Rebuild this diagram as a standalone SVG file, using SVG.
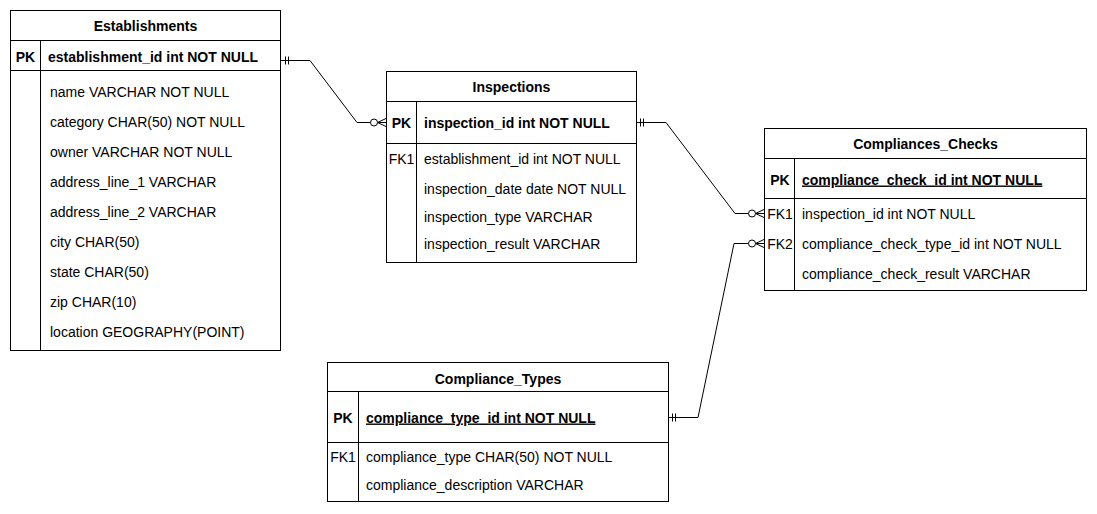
<svg xmlns="http://www.w3.org/2000/svg" width="1097" height="514" viewBox="0 0 1097 514">
<style>
.box{fill:#fff;stroke:#000;stroke-width:1}
.ln{stroke:#000;stroke-width:1;fill:none}
text{font-family:"Liberation Sans",Arial,sans-serif;font-size:14px;fill:#000}
.t{font-weight:bold;text-anchor:middle}
.b{font-weight:bold}
.k{text-anchor:middle}
.kb{text-anchor:middle;font-weight:bold}
.u{text-decoration:underline}
.conn{stroke:#000;stroke-width:1;fill:none}
.circ{fill:#fff;stroke:#000;stroke-width:1}
</style>
<rect width="1097" height="514" fill="#fff"/>
<g id="connectors">
  <g id="c1">
    <path class="conn" d="M281,60.5 H310 L357,122.5 H386"/>
    <path class="conn" d="M285.5,56.5 V64.5 M288.5,56.5 V64.5"/>
    <path class="conn" d="M377.5,122.5 L386,118.5 M377.5,122.5 L386,122.5 M377.5,122.5 L386,126.5"/>
    <circle class="circ" cx="374" cy="122.5" r="3.5"/>
  </g>
  <g id="c2">
    <path class="conn" d="M636,122.5 H666 L735,213.5 H764"/>
    <path class="conn" d="M640.5,118.5 V126.5 M643.5,118.5 V126.5"/>
    <path class="conn" d="M755.5,213.5 L764,209.5 M755.5,213.5 L764,213.5 M755.5,213.5 L764,217.5"/>
    <circle class="circ" cx="752" cy="213.5" r="3.5"/>
  </g>
  <g id="c3">
    <path class="conn" d="M668,417.5 H698 L734,243.5 H764"/>
    <path class="conn" d="M672.5,413.5 V421.5 M675.5,413.5 V421.5"/>
    <path class="conn" d="M755.5,243.5 L764,239.5 M755.5,243.5 L764,243.5 M755.5,243.5 L764,247.5"/>
    <circle class="circ" cx="752" cy="243.5" r="3.5"/>
  </g>
</g>
<g id="establishments">
  <rect class="box" x="10.5" y="10.5" width="270" height="340"/>
  <path class="ln" d="M10.5,40.5 H280.5 M10.5,70.5 H280.5 M40.5,40.5 V350.5"/>
  <text class="t" x="145.5" y="31">Establishments</text>
  <text class="kb" x="25.5" y="61.5">PK</text>
  <text class="b" x="48" y="61.5">establishment_id int NOT NULL</text>
  <text x="50" y="96.5">name VARCHAR NOT NULL</text>
  <text x="50" y="126.5">category CHAR(50) NOT NULL</text>
  <text x="50" y="156.5">owner VARCHAR NOT NULL</text>
  <text x="50" y="186.5">address_line_1 VARCHAR</text>
  <text x="50" y="216.5">address_line_2 VARCHAR</text>
  <text x="50" y="246.5">city CHAR(50)</text>
  <text x="50" y="276.5">state CHAR(50)</text>
  <text x="50" y="306.5">zip CHAR(10)</text>
  <text x="50" y="336.5">location GEOGRAPHY(POINT)</text>
</g>
<g id="inspections">
  <rect class="box" x="386.5" y="71.5" width="250" height="191"/>
  <path class="ln" d="M386.5,101.5 H636.5 M386.5,143.5 H636.5 M416.5,101.5 V262.5"/>
  <text class="t" x="511.5" y="92">Inspections</text>
  <text class="kb" x="401.5" y="128">PK</text>
  <text class="b" x="424" y="128">inspection_id int NOT NULL</text>
  <text class="k" x="401.5" y="164">FK1</text>
  <text x="424" y="164">establishment_id int NOT NULL</text>
  <text x="424" y="194">inspection_date date NOT NULL</text>
  <text x="424" y="222">inspection_type VARCHAR</text>
  <text x="424" y="249">inspection_result VARCHAR</text>
</g>
<g id="compliances_checks">
  <rect class="box" x="764.5" y="128.5" width="322" height="162"/>
  <path class="ln" d="M764.5,158.5 H1086.5 M764.5,198.5 H1086.5 M794.5,158.5 V290.5"/>
  <text class="t" x="925.5" y="148.5">Compliances_Checks</text>
  <text class="kb" x="780" y="184.5">PK</text>
  <text class="b u" x="802" y="184.5">compliance_check_id int NOT NULL</text>
  <text class="k" x="780" y="218.5">FK1</text>
  <text x="802" y="218.5">inspection_id int NOT NULL</text>
  <text class="k" x="780" y="248.5">FK2</text>
  <text x="802" y="248.5">compliance_check_type_id int NOT NULL</text>
  <text x="802" y="278.5">compliance_check_result VARCHAR</text>
</g>
<g id="compliance_types">
  <rect class="box" x="327.5" y="362.5" width="341" height="139"/>
  <path class="ln" d="M327.5,391.5 H668.5 M327.5,442.5 H668.5 M358.5,391.5 V501.5"/>
  <text class="t" x="498" y="383.5">Compliance_Types</text>
  <text class="kb" x="343" y="422.5">PK</text>
  <text class="b u" x="366" y="422.5">compliance_type_id int NOT NULL</text>
  <text class="k" x="343" y="462">FK1</text>
  <text x="366" y="462">compliance_type CHAR(50) NOT NULL</text>
  <text x="366" y="490">compliance_description VARCHAR</text>
</g>
</svg>
